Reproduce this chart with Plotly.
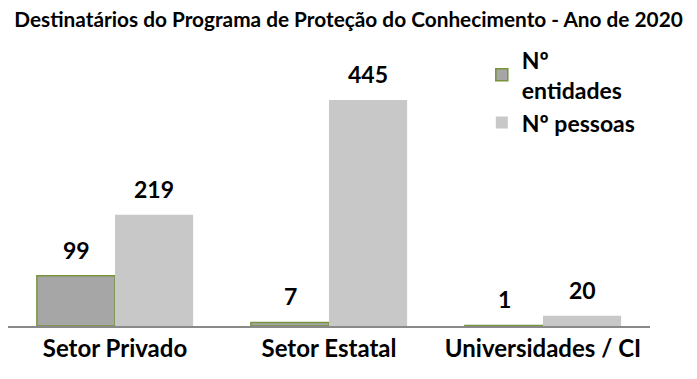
import plotly.graph_objects as go

categories = ["Setor Privado", "Setor Estatal", "Universidades / CI"]
entidades = [99, 7, 1]
pessoas = [219, 445, 20]
series_names = ["Nº<br>entidades", "Nº pessoas"]
title = "Destinatários do Programa de Proteção do Conhecimento - Ano de 2020"

FONT = "Lato"
fig = go.Figure()
fig.add_trace(go.Bar(
    x=categories, y=entidades, name=series_names[0],
    marker=dict(color="#a6a6a6", line=dict(color="#77933c", width=1.5)),
))
fig.add_trace(go.Bar(
    x=categories, y=pessoas, name=series_names[1],
    marker=dict(color="#c8c8c8", line=dict(width=0)),
))

# value labels above bars (positioned via data coordinates)
for vals, dx in ((entidades, -39), (pessoas, 39)):
    for c, v in zip(categories, vals):
        fig.add_annotation(x=c, y=v, xref="x", yref="y", text="<b>%d</b>" % v,
                           showarrow=False, xanchor="center", yanchor="bottom",
                           xshift=dx, yshift=10,
                           font=dict(family=FONT, size=23, color="#000000"))

fig.update_layout(
    width=697, height=379,
    margin=dict(l=8, r=47, t=40, b=53),
    paper_bgcolor="white", plot_bgcolor="white",
    barmode="group", bargap=0.27, bargroupgap=0,
    title=dict(text="<b>" + title + "</b>", x=0.5, xanchor="center", y=0.947, yanchor="middle",
               font=dict(family=FONT, size=20.8, color="#000000")),
    font=dict(family=FONT, color="#000000"),
    legend=dict(x=0.738, y=1.006, xanchor="left", yanchor="top",
                font=dict(family=FONT, size=23, color="#000000", weight="bold"),
                bgcolor="rgba(0,0,0,0)", tracegroupgap=12),
    showlegend=True,
)
fig.update_xaxes(showline=True, linecolor="#898989", linewidth=1.5, ticks="",
                 tickfont=dict(family=FONT, size=24, color="#000000", weight="bold"),
                 showgrid=False)
fig.update_yaxes(range=[0, 563], visible=False, showgrid=False, zeroline=False)
fig.write_html("out.html", config={"displayModeBar": False},
               post_script="document.body.style.margin='0';")
